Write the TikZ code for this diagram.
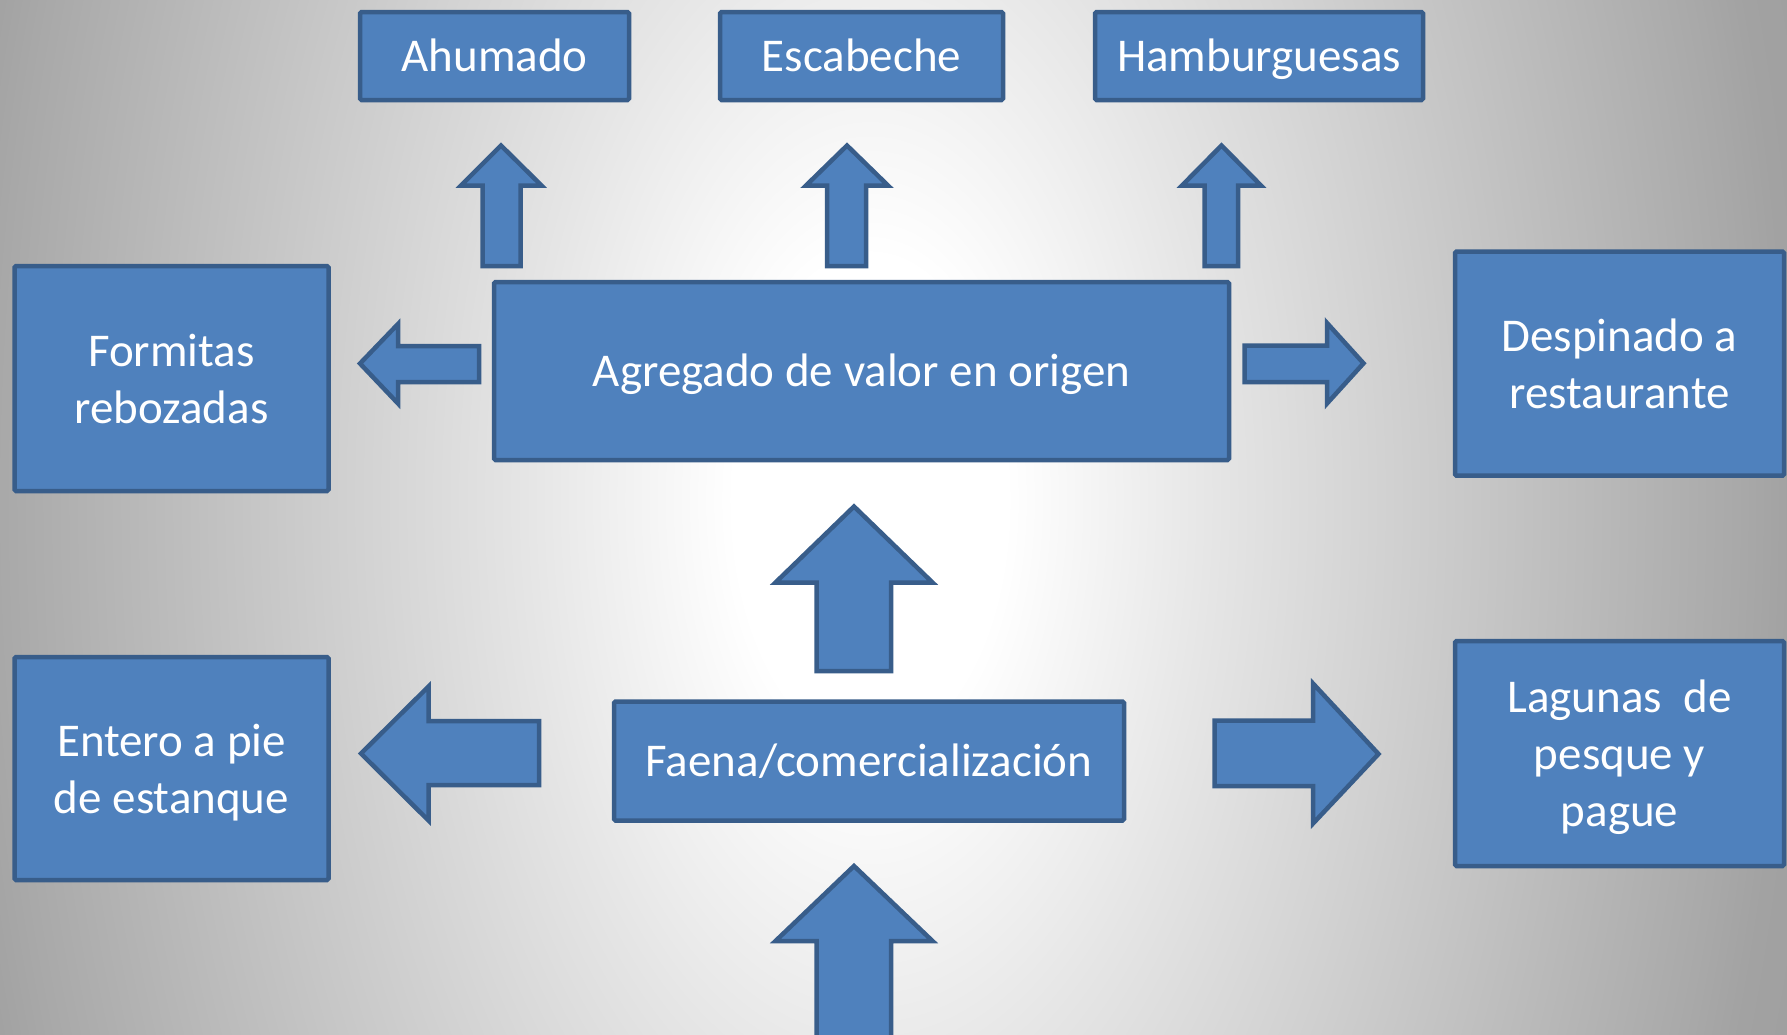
\documentclass[tikz,border=0pt]{standalone}
\usepackage{fontspec}
\setmainfont{Carlito}
\definecolor{boxfill}{HTML}{4F81BD}
\definecolor{boxline}{HTML}{385D8A}
\definecolor{bgA}{gray}{0.90}
\definecolor{bgB}{gray}{0.66}
\definecolor{bgC}{gray}{0.635}
\definecolor{bgD}{gray}{0.45}
\pgfdeclareradialshading{bgshade}{\pgfpoint{0bp}{0bp}}{color(0bp)=(white); color(3.4bp)=(white); color(8.55bp)=(bgA); color(21.8bp)=(bgB); color(23bp)=(bgC); color(50bp)=(bgD)}
\begin{document}
\begin{tikzpicture}[x=1pt,y=-1pt,
  box/.style={draw=boxline, fill=boxfill, line width=4.5pt, rounded corners=1.5pt,
    text=white, font=\fontsize{47}{57}\selectfont, align=center, inner sep=0pt, text depth=0pt},
  oneline/.style={text height=30pt},
  barrow/.style={draw=boxline, fill=boxfill, line width=4.5pt, line join=miter}]
\useasboundingbox (0,0) rectangle (1787,1034);
\begin{scope}
  \clip (0,0) rectangle (1787,1034);
  \shade[shading=bgshade] (-130,-1278) rectangle (1870,2278);

  % top boxes
  \node[box, oneline, minimum width=269pt, minimum height=88pt] (ahu) at (494.5,56) {Ahumado};
  \node[box, oneline, minimum width=283pt, minimum height=88pt] (esc) at (861.5,56) {Escabeche};
  \node[box, oneline, minimum width=328pt, minimum height=88pt] (ham) at (1259,56) {Hamburguesas};
  % middle row
  \node[box, oneline, minimum width=735pt, minimum height=178pt] (agr) at (861.5,371) {Agregado de valor en origen};
  \node[box, minimum width=314pt, minimum height=225pt] (for) at (171.5,378.5) {Formitas\\rebozadas};
  \node[box, minimum width=329pt, minimum height=224pt] (des) at (1619.5,363.6) {Despinado a\\restaurante};
  % bottom row
  \node[box, oneline, minimum width=510pt, minimum height=119pt] (fae) at (869,761) {Faena/comercializaci\'on};
  \node[box, minimum width=314pt, minimum height=223pt] (ent) at (171.5,768.5) {\vphantom{d}Entero a pie\\de estanque};
  \node[box, minimum width=329pt, minimum height=225pt] (lag) at (1619.5,753.5) {Lagunas\ \ de\\pesque y\\pague};

  % small up arrows: agr -> top boxes
  \draw[barrow] (482.5,266) -- (482.5,185.5) -- (461,185.5) -- (501,145.5) -- (541.5,185.5) -- (520.5,185.5) -- (520.5,266) -- cycle;
  \draw[barrow] (827,266) -- (827,185.5) -- (806,185.5) -- (847,145.5) -- (888,185.5) -- (866,185.5) -- (866,266) -- cycle;
  \draw[barrow] (1204.5,266) -- (1204.5,185.5) -- (1182,185.5) -- (1221.5,145.5) -- (1261,185.5) -- (1238,185.5) -- (1238,266) -- cycle;
  % agr -> formitas (left)
  \draw[barrow] (479,346) -- (398,346) -- (398,324) -- (360,363.5) -- (398,403.5) -- (398,382) -- (479,382) -- cycle;
  % agr -> despinado (right)
  \draw[barrow] (1244.5,345.5) -- (1327,345.5) -- (1327,323) -- (1363.5,363.3) -- (1327,403.5) -- (1327,382) -- (1244.5,382) -- cycle;
  % fae -> agr (big up)
  \draw[barrow] (816.5,671) -- (816.5,582.5) -- (775.5,582.5) -- (854,506.5) -- (932.5,582.5) -- (891,582.5) -- (891,671) -- cycle;
  % input -> fae (big up, from bottom)
  \draw[barrow] (816.5,1045) -- (816.5,941) -- (775.5,941) -- (854,866) -- (932.5,941) -- (891,941) -- (891,1045) -- cycle;
  % fae -> entero (left)
  \draw[barrow] (539,721) -- (428.5,721) -- (428.5,686.5) -- (361,753.5) -- (428.5,820.5) -- (428.5,785) -- (539,785) -- cycle;
  % fae -> lagunas (right)
  \draw[barrow] (1214.5,720.5) -- (1313,720.5) -- (1313,683.5) -- (1378.5,754) -- (1313,823.5) -- (1313,786) -- (1214.5,786) -- cycle;
\end{scope}
\end{tikzpicture}
\end{document}
